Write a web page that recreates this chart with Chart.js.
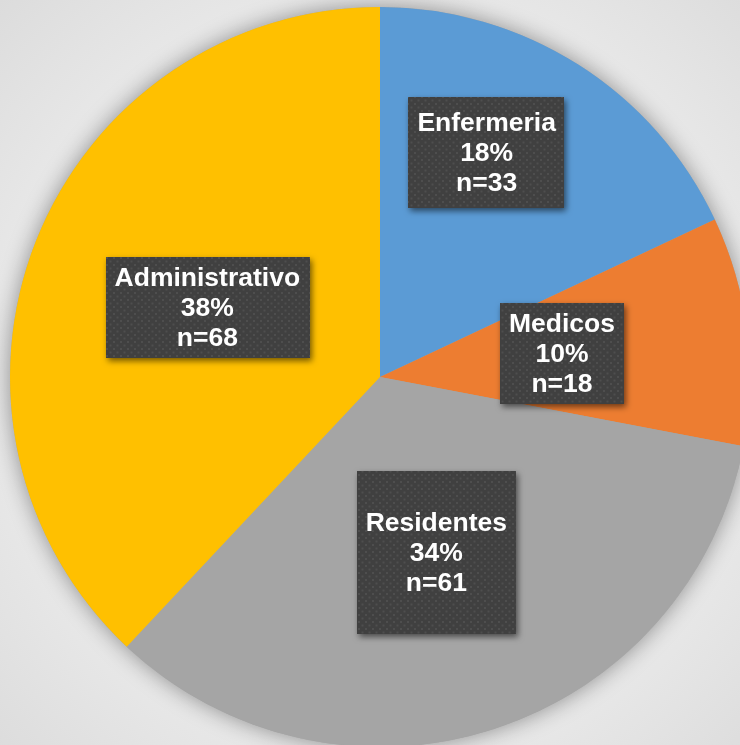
<!DOCTYPE html>
<html>
<head>
<meta charset="utf-8">
<script src="https://cdn.jsdelivr.net/npm/chart.js@4/dist/chart.umd.min.js"></script>
<style>
  html, body { margin: 0; padding: 0; }
  body {
    width: 740px; height: 745px; overflow: hidden; position: relative;
    background: radial-gradient(circle at 380px 377px, #f4f4f4 0%, #eeeeee 55%, #dcdcdc 100%);
  }
  #chart { position: absolute; left: 0; top: -3px; }
</style>
</head>
<body>
<canvas id="chart" width="760" height="760"></canvas>
<script>
// Datos del grafico
const categorias = ['Enfermeria', 'Medicos', 'Residentes', 'Administrativo'];
const porcentajes = [18, 10, 34, 38];
const cantidades = [33, 18, 61, 68];
const colores = ['#5B9BD5', '#ED7D31', '#A5A5A5', '#FFC000'];

// Patron de puntos para las cajas de etiqueta
function patronPuntos(ctx) {
  const c = document.createElement('canvas');
  c.width = 7; c.height = 7;
  const p = c.getContext('2d');
  p.fillStyle = '#404040';
  p.fillRect(0, 0, 7, 7);
  p.fillStyle = '#4e4e4e';
  p.fillRect(1, 1, 2, 2);
  p.fillRect(4.5, 4.5, 2, 2);
  return ctx.createPattern(c, 'repeat');
}

// Sombra debajo del pastel
const sombraPastel = {
  id: 'sombraPastel',
  beforeDatasetsDraw(chart) {
    const arc = chart.getDatasetMeta(0).data[0];
    if (!arc) return;
    const ctx = chart.ctx;
    ctx.save();
    ctx.shadowColor = 'rgba(0,0,0,0.4)';
    ctx.shadowBlur = 22;
    ctx.fillStyle = '#a5a5a5';
    ctx.beginPath();
    ctx.arc(arc.x, arc.y, arc.outerRadius, 0, Math.PI * 2);
    ctx.fill();
    ctx.restore();
  }
};

// Etiquetas con caja oscura
const etiquetas = {
  id: 'etiquetas',
  afterDatasetsDraw(chart, args, opts) {
    const ctx = chart.ctx;
    const fill = patronPuntos(ctx);
    const meta = chart.getDatasetMeta(0);
    meta.data.forEach((arc, i) => {
      const ajuste = opts.ajustes[i] || {};
      const mid = (arc.startAngle + arc.endAngle) / 2 + (ajuste.giro || 0) * Math.PI / 180;
      const r = arc.outerRadius * (ajuste.radio || 0.5);
      const cx = arc.x + Math.cos(mid) * r;
      const cy = arc.y + Math.sin(mid) * r;
      const lineas = [categorias[i], porcentajes[i] + '%', 'n=' + cantidades[i]];
      ctx.save();
      ctx.font = 'bold 26.5px "Liberation Sans", Arial, sans-serif';
      const w = Math.max(...lineas.map(t => ctx.measureText(t).width)) + 18;
      const lh = 30;
      const h = lh * lineas.length + 2 * (ajuste.padY || 5.5);
      ctx.shadowColor = 'rgba(0,0,0,0.55)';
      ctx.shadowBlur = 6;
      ctx.shadowOffsetX = 2;
      ctx.shadowOffsetY = 3;
      ctx.fillStyle = fill;
      ctx.fillRect(Math.round(cx - w / 2), Math.round(cy - h / 2), Math.round(w), Math.round(h));
      ctx.shadowColor = 'transparent';
      ctx.fillStyle = '#ffffff';
      ctx.textAlign = 'center';
      ctx.textBaseline = 'middle';
      lineas.forEach((t, k) => {
        ctx.fillText(t, cx, cy + (k - 1) * lh + 1);
      });
      ctx.restore();
    });
  }
};

new Chart(document.getElementById('chart'), {
  type: 'pie',
  data: {
    labels: categorias,
    datasets: [{
      data: porcentajes,
      backgroundColor: colores,
      borderWidth: 0
    }]
  },
  options: {
    responsive: false,
    animation: false,
    layout: { padding: 10 },
    plugins: {
      legend: { display: false },
      tooltip: { enabled: false },
      etiquetas: {
        ajustes: [
          { giro: -7.0, radio: 0.672, padY: 10.5 },
          { giro: -0.2, radio: 0.496 },
          { giro: 0.2, radio: 0.498, padY: 36.5 },
          { giro: 0.3, radio: 0.503 }
        ]
      }
    }
  },
  plugins: [sombraPastel, etiquetas]
});
</script>
</body>
</html>
